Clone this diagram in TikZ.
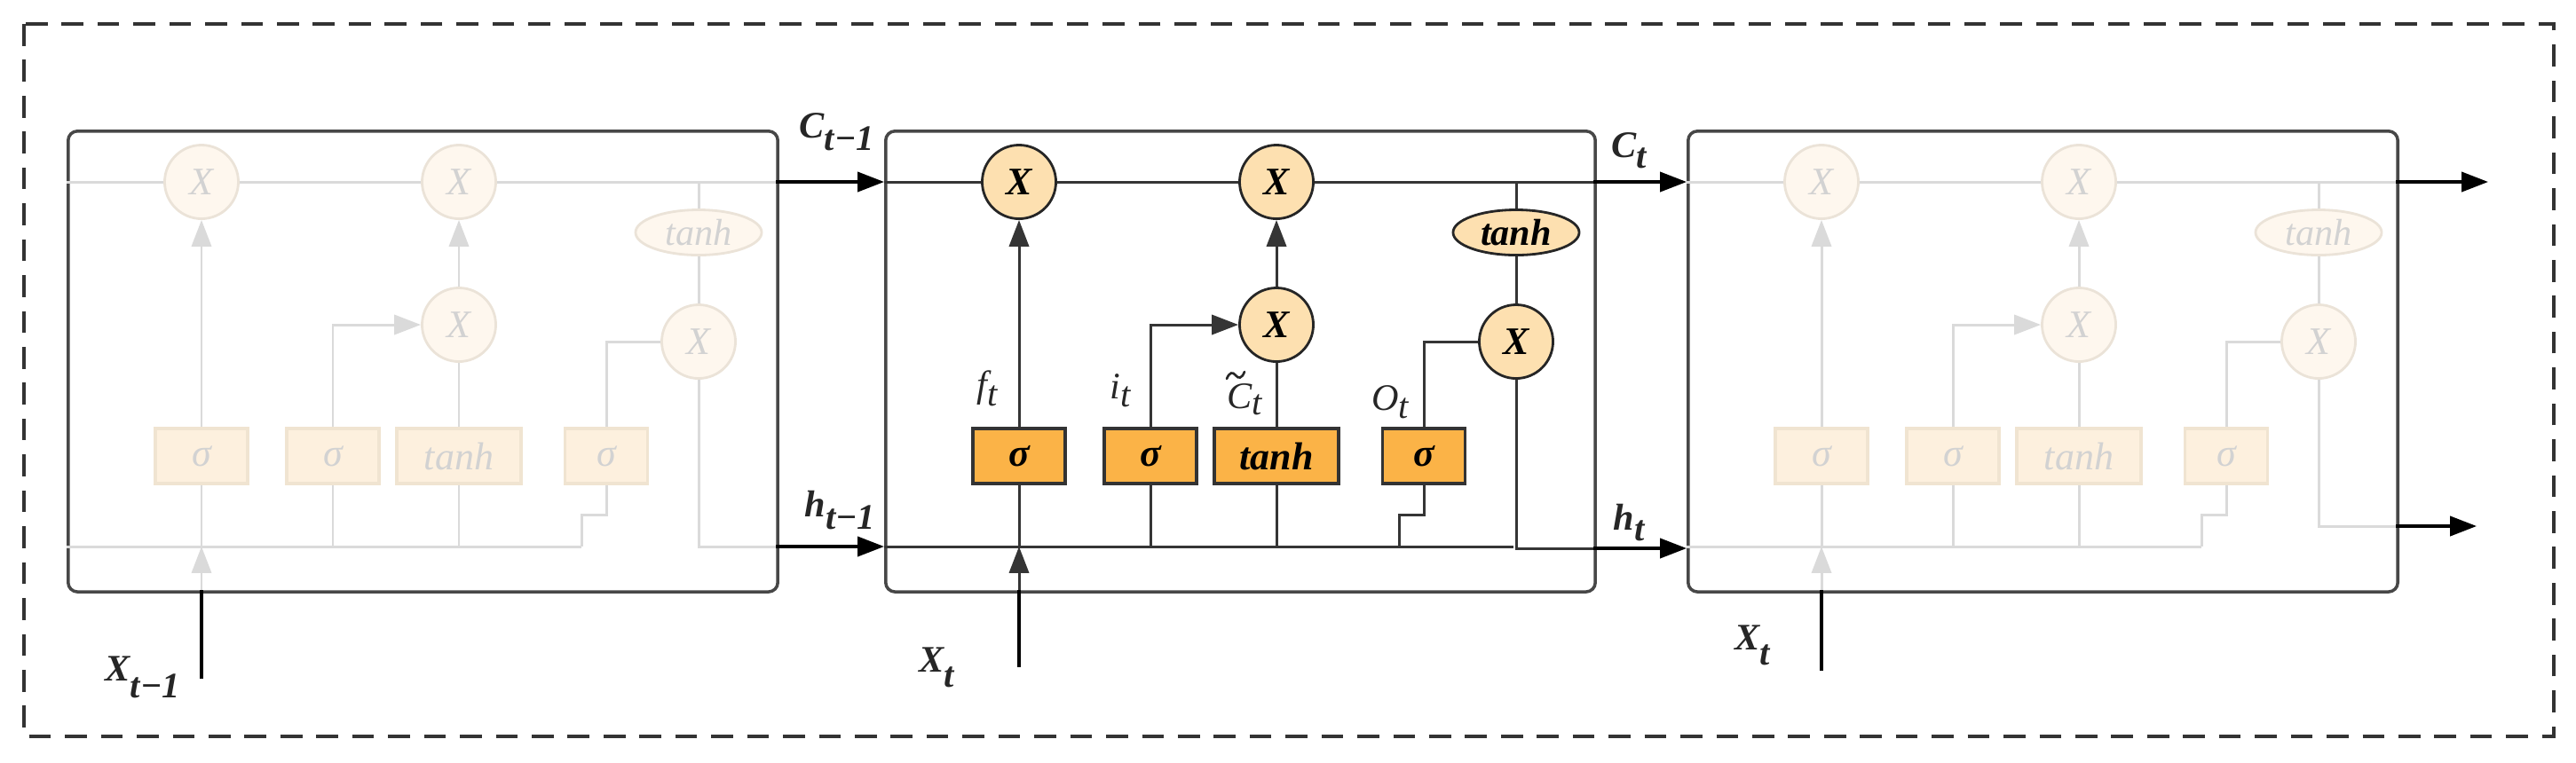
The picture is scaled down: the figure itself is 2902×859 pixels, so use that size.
\documentclass[tikz,border=0pt]{standalone}
\usepackage{fontspec}
\setmainfont{Liberation Serif}
\usetikzlibrary{shapes.geometric,arrows.meta}
\definecolor{circA}{HTML}{FDE0B0}
\definecolor{boxA}{HTML}{FBB347}
\definecolor{lnA}{HTML}{353535}
\definecolor{circF}{HTML}{FEF7EE}
\definecolor{circFd}{HTML}{EBE3D8}
\definecolor{boxF}{HTML}{FDF0DE}
\definecolor{boxFd}{HTML}{F0E4D1}
\definecolor{lnF}{HTML}{DADADA}
\definecolor{txtF}{HTML}{D2D2D2}
\definecolor{frameC}{HTML}{474747}
\definecolor{dashC}{HTML}{333333}
\newcommand{\sbs}[3][11.5]{\raisebox{#2}{\fontsize{#1}{#1}\selectfont #3}}
\newcommand{\lstmcell}[6]{%
\begin{scope}[shift={(#2,#3)},#6]
\node[cellbox, anchor=north west] (#1box) at (0,0) {};
\node[circ] (#1x1) at (152,59) {X};
\node[circ] (#1x2) at (442,59) {X};
\node[circ] (#1x3) at (442,220) {X};
\node[ell] (#1th) at (712,116) {tanh};
\node[circ] (#1x4) at (712,239) {X};
\node[gbox, minimum width=1.04cm] (#1s1) at (152,368) {σ};
\node[gbox, minimum width=1.04cm] (#1s2) at (300,368) {σ};
\node[gbox, minimum width=1.40cm] (#1tb) at (442,368) {tanh};
\node[gbox, minimum width=0.93cm] (#1s3) at (608,368) {σ};
\coordinate (#1cin) at (0,59);
\coordinate (#1cout) at (799,59);
\coordinate (#1tap) at (712,59);
\coordinate (#1hin) at (0,470);
\coordinate (#1hend) at (#4,470);
\coordinate (#1step) at (580,434);
\coordinate (#1hout) at (799,#5);
\coordinate (#1xbot) at (152,519);
\draw[ln] (#1cin) -- (#1x1.west);
\draw[ln] (#1x1) -- (#1x2);
\draw[ln] (#1x2.east) -- (#1cout);
\draw[ln] (#1tap) -- (#1th.north);
\draw[ln] (#1th.south) -- (#1x4.north);
\draw[ln,arr] (#1s1.north) -- (#1x1.south);
\draw[ln,arr] (#1s2.north) |- (#1x3.west);
\draw[ln] (#1tb.north) -- (#1x3.south);
\draw[ln,arr] (#1x3.north) -- (#1x2.south);
\draw[ln] (#1s3.north) |- (#1x4.west);
\draw[ln] (#1s3.south) |- (#1step) -- (#1step |- #1hin);
\draw[ln] (#1hin) -- (#1hend);
\draw[ln] (#1s1.south) -- (#1s1 |- #1hin);
\draw[ln] (#1s2.south) -- (#1s2 |- #1hin);
\draw[ln] (#1tb.south) -- (#1tb |- #1hin);
\draw[ln] (#1x4.south) |- (#1hout);
\draw[ln,arr] (#1xbot) -- (#1xbot |- #1hin);
\end{scope}}
\tikzset{
  arr/.style={-{Triangle[length=8.5pt,width=6.3pt]}},
  ext/.style={draw=black, line width=0.95pt},
  cellbox/.style={draw=frameC, line width=1pt, rounded corners=3pt,
    minimum width=7.99cm, minimum height=5.19cm, inner sep=0pt},
  lab/.style={inner sep=0pt, anchor=base west, font=\fontsize{12}{14}\selectfont\bfseries\itshape, text=black!85},
  glab/.style={inner sep=0pt, font=\fontsize{12}{14}\selectfont\itshape, text=black!85},
  activecell/.style={
    circ/.style={circle, draw=black!85, line width=0.8pt, fill=circA,
      minimum size=0.83cm, inner sep=0pt, font=\fontsize{12.5}{14}\selectfont\bfseries\itshape},
    ell/.style={ellipse, draw=black!85, line width=0.8pt, fill=circA,
      minimum width=1.42cm, minimum height=0.51cm, inner sep=0pt, font=\fontsize{12}{14}\selectfont\bfseries\itshape},
    gbox/.style={rectangle, draw=black!80, line width=0.9pt, fill=boxA,
      minimum height=0.62cm, inner sep=0pt, font=\fontsize{12.5}{14}\selectfont\bfseries\itshape},
    ln/.style={draw=lnA, line width=0.85pt}},
  fadedcell/.style={
    circ/.style={circle, draw=circFd, line width=0.8pt, fill=circF, text=txtF,
      minimum size=0.83cm, inner sep=0pt, font=\fontsize{12.5}{14}\selectfont\itshape},
    ell/.style={ellipse, draw=circFd, line width=0.8pt, fill=circF, text=txtF,
      minimum width=1.42cm, minimum height=0.51cm, inner sep=0pt, font=\fontsize{12}{14}\selectfont\itshape},
    gbox/.style={rectangle, draw=boxFd, line width=0.9pt, fill=boxF, text=txtF,
      minimum height=0.62cm, inner sep=0pt, font=\fontsize{12.5}{14}\selectfont\itshape},
    ln/.style={draw=lnF, line width=0.85pt}}
}
\begin{document}
\begin{tikzpicture}[x=0.01cm, y=-0.01cm]
\useasboundingbox (0,0) rectangle (2902,859);
\draw[dashC, line width=1.3pt, dash pattern=on 7pt off 4.5pt] (27,27) rectangle (2877,830);
\lstmcell{L}{75}{146}{580}{470}{fadedcell}
\lstmcell{M}{996}{146}{709}{472}{activecell}
\lstmcell{R}{1900}{146}{580}{447}{fadedcell}
% external connectors
\coordinate (Cend) at (2803,205);
\coordinate (Hend) at (2790,593);
\draw[ext,arr] (Lcout) -- (Mbox.west |- Lcout);
\draw[ext,arr] (Lhout) -- (Mbox.west |- Lhout);
\draw[ext,arr] (Mcout) -- (Rbox.west |- Mcout);
\draw[ext,arr] (Mhout) -- (Rbox.west |- Mhout);
\draw[ext,arr] (Rcout) -- (Cend);
\draw[ext,arr] (Rhout) -- (Hend);
% inputs
\coordinate (yL) at (0,765);
\coordinate (yM) at (0,752);
\coordinate (yR) at (0,756);
\draw[ext] (Lxbot |- yL) -- (Lxbot);
\draw[ext] (Mxbot |- yM) -- (Mxbot);
\draw[ext] (Rxbot |- yR) -- (Rxbot);
% labels
\node[lab] (lC1) at (900,155) {C\sbs{-4.2pt}{t−1}};
\node[lab] (lh1) at (906,582) {h\sbs{-4.2pt}{t−1}};
\node[lab] (lX1) at (118,767) {X\sbs{-5.5pt}{t−1}};
\node[lab] (lCt) at (1815,177) {C\sbs{-3.5pt}{t}};
\node[lab] (lht) at (1817,597) {h\sbs{-3.5pt}{t}};
\node[lab] (lXm) at (1035,757) {X\sbs{-5pt}{t}};
\node[lab] (lXr) at (1954,732) {X\sbs{-5pt}{t}};
\node[glab] (lf) at (1112,438) {f\sbs{-3pt}{t}};
\node[glab] (li) at (1262,440) {i\sbs{-2.5pt}{t}};
\node[glab] (lc) at (1402,450) {C\sbs{-2pt}{t}};
\draw[black!85, line width=0.75pt, line cap=round]
  (1382,427) .. controls (1385,419) and (1389,419) .. (1392,423)
  .. controls (1395,427) and (1399,427) .. (1402,419);
\node[glab] (lo) at (1566,453) {O\sbs{-2.5pt}{t}};
\end{tikzpicture}
\end{document}
